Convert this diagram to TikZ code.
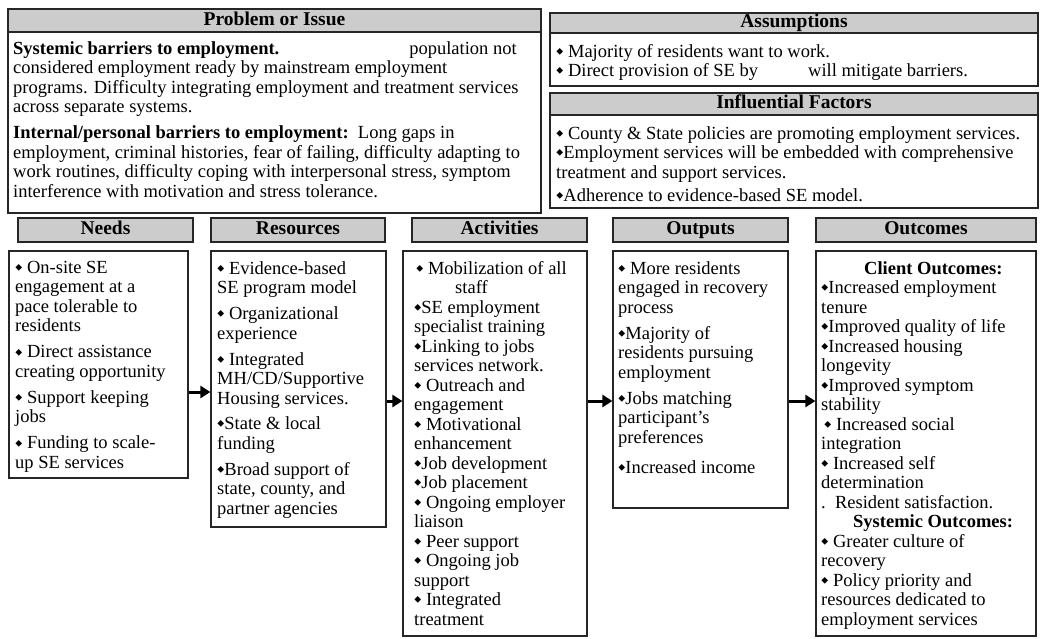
\documentclass[tikz,border=0pt]{standalone}
\usepackage{fontspec}
\setmainfont{Liberation Serif}
\usepackage{amssymb}
\usetikzlibrary{arrows.meta}

\newcommand\bul{\raisebox{.22ex}{\rotatebox{45}{\scalebox{.38}{$\blacksquare$}}}}

\begin{document}
\begin{tikzpicture}[x=1pt,y=-1pt,
        headstyle/.style={
            draw=black!85,
            line width=1.2pt,
            fill=black!20,
            inner sep=0pt,
            text height=13pt,
            text depth=4pt,
            font=\fontsize{19.5}{20}\selectfont\bfseries},
        boxstyle/.style={
            draw=black!85,
            line width=1.2pt,
            inner sep=0pt},
        textstyle/.style={
            anchor=north west,
            align=left,
            inner sep=0pt,
            execute at begin node=\strut,
            font=\fontsize{18.5}{19.5}\selectfont},
        arrowstyle/.style={
            -{Triangle[length=10pt,width=12pt]},
            line width=3pt}
        ]

        \useasboundingbox (0,0) rectangle (1041,638);

        % top row
        \node[boxstyle, minimum width=533pt, minimum height=204pt] (problem) at (274.5,111) {};
        \node[headstyle, minimum width=533pt, minimum height=23pt] (problemhead) at (274.5,20.5) {Problem or Issue};
        \node[textstyle] (problemtxt) at (13,41) {\textbf{Systemic barriers to employment.}\hspace*{130pt}population not\\
            considered employment ready by mainstream employment\\
            programs. Difficulty integrating employment and treatment services\\
            across separate systems.\\[6.5pt]
            \textbf{Internal/personal barriers to employment:}\ \ Long gaps in\\
            employment, criminal histories, fear of failing, difficulty adapting to\\
            work routines, difficulty coping with interpersonal stress, symptom\\
            interference with motivation and stress tolerance.};

        \node[boxstyle, minimum width=488pt, minimum height=73pt] (assume) at (794,49.5) {};
        \node[headstyle, minimum width=488pt, minimum height=20pt] (assumehead) at (794,23) {Assumptions};
        \node[textstyle] (assumetxt) at (556,44) {\bul\ Majority of residents want to work.\\
            \bul\ Direct provision of SE by\hspace*{50pt}will mitigate barriers.};

        \node[boxstyle, minimum width=488pt, minimum height=115pt] (factors) at (794,150.5) {};
        \node[headstyle, minimum width=488pt, minimum height=22pt] (factorshead) at (794,104) {Influential Factors};
        \node[textstyle] (factorstxt) at (556,126) {\bul\ County \& State policies are promoting employment services.\\
            \bul Employment services will be embedded with comprehensive\\
            treatment and support services.\\[4pt]
            \bul Adherence to evidence-based SE model.};

        % bottom row
        \node[headstyle, minimum width=175pt, minimum height=24pt] (needshead) at (105.5,230) {Needs};
        \node[headstyle, minimum width=174pt, minimum height=24pt] (resourceshead) at (298,230) {Resources};
        \node[headstyle, minimum width=175pt, minimum height=24pt] (activitieshead) at (499.5,230) {Activities};
        \node[headstyle, minimum width=175pt, minimum height=24pt] (outputshead) at (700.5,230) {Outputs};
        \node[headstyle, minimum width=220pt, minimum height=24pt] (outcomeshead) at (926,230) {Outcomes};

        \node[boxstyle, minimum width=179pt, minimum height=227pt] (needs) at (98.5,364.5) {};
        \node[boxstyle, minimum width=175pt, minimum height=276pt] (resources) at (298.5,389) {};
        \node[boxstyle, minimum width=184pt, minimum height=385pt] (activities) at (495,443.5) {};
        \node[boxstyle, minimum width=175pt, minimum height=257pt] (outputs) at (700.5,379.5) {};
        \node[boxstyle, minimum width=220pt, minimum height=385pt] (outcomes) at (926,443.5) {};

        \node[textstyle] (needstxt) at (15,261) {\bul\ On-site SE\\ engagement at a\\ pace tolerable to\\ residents\\[6.5pt]
            \bul\ Direct assistance\\ creating opportunity\\[6.5pt]
            \bul\ Support keeping\\ jobs\\[6.5pt]
            \bul\ Funding to scale-\\ up SE services};

        \node[textstyle] (resourcestxt) at (217,261) {\bul\ Evidence-based\\ SE program model\\[6.5pt]
            \bul\ Organizational\\ experience\\[6.5pt]
            \bul\ Integrated\\ MH/CD/Supportive\\ Housing services.\\[6pt]
            \bul State \& local\\ funding\\[6.5pt]
            \bul Broad support of\\ state, county, and\\ partner agencies};

        \node[textstyle] (activitiestxt) at (414,261) {\hspace*{2pt}\bul\ Mobilization of all\\ \hspace*{41pt}staff\\
            \bul SE employment\\ specialist training\\
            \bul Linking to jobs\\ services network.\\
            \bul\ Outreach and\\ engagement\\
            \bul\ Motivational\\ enhancement\\
            \bul Job development\\
            \bul Job placement\\
            \bul\ Ongoing employer\\ liaison\\
            \bul\ Peer support\\
            \bul\ Ongoing job\\ support\\
            \bul\ Integrated\\ treatment};

        \node[textstyle] (outputstxt) at (618,261) {\bul\ More residents\\ engaged in recovery\\ process\\[6.5pt]
            \bul Majority of\\ residents pursuing\\ employment\\[6.5pt]
            \bul Jobs matching\\ participant's\\ preferences\\[10.5pt]
            \bul Increased income};

        \node[textstyle] (outcomestxt) at (821,261) {\hspace*{43pt}\textbf{Client Outcomes:}\\
            \bul Increased employment\\ tenure\\
            \bul Improved quality of life\\
            \bul Increased housing\\ longevity\\
            \bul Improved symptom\\ stability\\
            \hspace*{3pt}\bul\ Increased social\\ integration\\
            \bul\ Increased self\\ determination\\
            .\ \ Resident satisfaction.\\
            \hspace*{32pt}\textbf{Systemic Outcomes:}\\
            \bul\ Greater culture of\\ recovery\\
            \bul\ Policy priority and\\ resources dedicated to\\ employment services};

        % arrows
        \coordinate (arrowa) at (0,392);
        \coordinate (arrowb) at (0,401);
        \draw[arrowstyle] (needs.east |- arrowa) -- (resources.west |- arrowa);
        \draw[arrowstyle] (resources.east |- arrowb) -- (activities.west |- arrowb);
        \draw[arrowstyle] (activities.east |- arrowb) -- (outputs.west |- arrowb);
        \draw[arrowstyle] (outputs.east |- arrowb) -- (outcomes.west |- arrowb);

    \end{tikzpicture}
\end{document}
